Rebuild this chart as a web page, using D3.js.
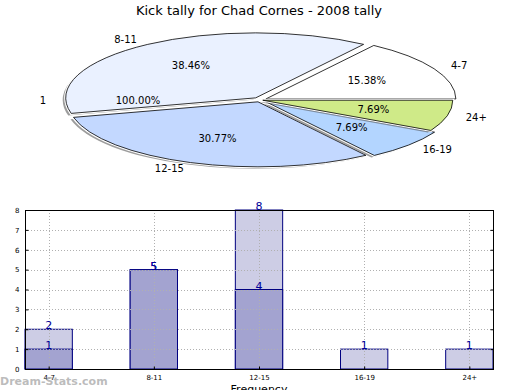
<!DOCTYPE html>
<html><head><meta charset="utf-8">
<script src="https://cdn.jsdelivr.net/npm/d3@7"></script>
<style>body{margin:0;background:#fff}svg{display:block}text{font-family:"DejaVu Sans",sans-serif}</style>
</head><body>
<svg id="c" width="520" height="390"></svg>
<script>
// ---- data ----
const title = "Kick tally for Chad Cornes - 2008 tally";
const pieLabels = ["4-7", "8-11", "12-15", "16-19", "24+"];
const pieValues = [2, 5, 4, 1, 1];
const pieColors = ["#ffffff", "#eaf1ff", "#c3d8ff", "#b3d5ff", "#cfea88"];
const pieExplode = [0.035, 0.04, 0.03, 0.045, 0.015];
const oddLabel = "1";          // degenerate slice drawn by the original
const oddPct = "100.00%";

const categories = ["4-7", "8-11", "12-15", "16-19", "24+"];
const seriesLight = [2, 5, 8, 1, 1];
const seriesDark = [1, 5, 4, 0, 0];
const yTicks = [0, 1, 2, 3, 4, 5, 6, 7, 8];
const xAxisLabel = "Frequency";
const watermark = "Dream-Stats.com";

const svg = d3.select("#c");

// ---- title ----
svg.append("text").attr("x", 259).attr("y", 15).attr("text-anchor", "middle")
  .attr("font-size", 13).text(title);

// ---- pie (elliptical) ----
const cx = 260, cy = 100, rx = 190, ry = 65;
const total = d3.sum(pieValues);
const pie = d3.pie().sort(null).value(d => d)
  .startAngle(Math.PI / 2).endAngle(Math.PI / 2 - 2 * Math.PI);
const arcs = pie(pieValues);
const unitArc = d3.arc().innerRadius(0).outerRadius(1);
const pt = (a, r) => [cx + r * rx * Math.sin(a), cy - r * ry * Math.cos(a)];

const pieG = svg.append("g");
arcs.forEach((d, i) => {
  const mid = (d.startAngle + d.endAngle) / 2;
  const ox = pieExplode[i] * rx * Math.sin(mid), oy = -pieExplode[i] * ry * Math.cos(mid);
  // shadow
  pieG.append("path").attr("d", unitArc(d))
    .attr("transform", `translate(${cx + ox - 3},${cy + oy + 2}) scale(${rx},${ry})`)
    .attr("fill", "#4d4d4d").attr("fill-opacity", 0.55);
  pieG.append("path").attr("d", unitArc(d))
    .attr("transform", `translate(${cx + ox},${cy + oy}) scale(${rx},${ry})`)
    .attr("fill", pieColors[i]).attr("stroke", "#fff").attr("stroke-width", 3)
    .attr("vector-effect", "non-scaling-stroke");
  pieG.append("path").attr("d", unitArc(d))
    .attr("transform", `translate(${cx + ox},${cy + oy}) scale(${rx},${ry})`)
    .attr("fill", pieColors[i]).attr("stroke", "#000").attr("stroke-width", 0.8)
    .attr("vector-effect", "non-scaling-stroke");
});
arcs.forEach((d, i) => {
  const mid = (d.startAngle + d.endAngle) / 2;
  const ox = pieExplode[i] * rx * Math.sin(mid), oy = -pieExplode[i] * ry * Math.cos(mid);
  const [lx, ly] = pt(mid, 1.1);
  svg.append("text").attr("x", lx + ox).attr("y", ly + oy).attr("dy", "0.35em")
    .attr("text-anchor", Math.sin(mid) >= 0 ? "start" : "end")
    .attr("font-size", 10).text(pieLabels[i]);
  const [px, py] = pt(mid, 0.6);
  svg.append("text").attr("x", px + ox).attr("y", py + oy).attr("dy", "0.35em")
    .attr("text-anchor", "middle").attr("font-size", 10)
    .text((100 * pieValues[i] / total).toFixed(2) + "%");
});
{
  const a = -Math.PI / 2;
  const [lx, ly] = pt(a, 1.1);
  svg.append("text").attr("x", lx - 5).attr("y", ly).attr("dy", "0.35em")
    .attr("text-anchor", "end").attr("font-size", 10).text(oddLabel);
  const [px, py] = pt(a, 0.6);
  svg.append("text").attr("x", px - 8).attr("y", py).attr("dy", "0.35em")
    .attr("text-anchor", "middle").attr("font-size", 10).text(oddPct);
}

// ---- bar chart ----
const L = 25, R = 493, T = 210, B = 369;
const x = d3.scaleLinear().domain([-0.225, categories.length - 1 + 0.225]).range([L, R]);
const y = d3.scaleLinear().domain([0, 8]).range([B, T]);
const bw = x(0.45) - x(0);
const g = svg.append("g");

g.selectAll("rect.l").data(seriesLight).join("rect")
  .attr("x", (d, i) => x(i) - bw / 2).attr("width", bw)
  .attr("y", d => y(d)).attr("height", d => B - y(d))
  .attr("fill", "#cdcde5").attr("stroke", "#000080").attr("stroke-width", 1);
g.selectAll("rect.d").data(seriesDark).join("rect")
  .attr("x", (d, i) => x(i) - bw / 2).attr("width", bw)
  .attr("y", d => y(d)).attr("height", d => B - y(d))
  .attr("fill", "#a3a3d0").attr("stroke", d => d > 0 ? "#000080" : "none").attr("stroke-width", 1);

// grid (on top)
const grid = svg.append("g").attr("stroke", "#b0b0b0").attr("stroke-dasharray", "1,2").attr("stroke-width", 1);
yTicks.slice(1, -1).forEach(t => grid.append("line").attr("x1", L).attr("x2", R)
  .attr("y1", Math.round(y(t)) + 0.5).attr("y2", Math.round(y(t)) + 0.5));
categories.forEach((c, i) => grid.append("line").attr("y1", T).attr("y2", B)
  .attr("x1", Math.round(x(i)) + 0.5).attr("x2", Math.round(x(i)) + 0.5));

// frame
svg.append("rect").attr("x", L + 0.5).attr("y", T + 0.5).attr("width", R - L).attr("height", B - T)
  .attr("fill", "none").attr("stroke", "#000").attr("stroke-width", 1);

// axes with inward ticks
const yAx = svg.append("g").attr("transform", `translate(${L + 0.5},0)`)
  .call(d3.axisLeft(y).tickValues(yTicks).tickSize(-3).tickPadding(6).tickFormat(d3.format("d")));
const yAxR = svg.append("g").attr("transform", `translate(${R + 0.5},0)`)
  .call(d3.axisRight(y).tickValues(yTicks).tickSize(-3).tickFormat(""));
const xAx = svg.append("g").attr("transform", `translate(0,${B + 0.5})`)
  .call(d3.axisBottom(x).tickValues(d3.range(categories.length)).tickSize(-3).tickPadding(6)
    .tickFormat(i => categories[i]));
[yAx, yAxR, xAx].forEach(a => {
  a.select(".domain").remove();
  a.selectAll("text").attr("font-size", 7).attr("font-family", "DejaVu Sans");
  a.selectAll("line").attr("stroke", "#000");
});

// bar value labels
const lab = svg.append("g").attr("fill", "#000099").attr("font-size", 11).attr("text-anchor", "middle");
seriesLight.forEach((v, i) => { if (v > 0) lab.append("text").attr("x", x(i)).attr("y", y(v)).text(v); });
seriesDark.forEach((v, i) => { if (v > 0) lab.append("text").attr("x", x(i)).attr("y", y(v)).text(v); });

svg.append("text").attr("x", 259).attr("y", 393).attr("text-anchor", "middle")
  .attr("font-size", 11).text(xAxisLabel);

svg.append("text").attr("x", 0).attr("y", 385).attr("font-size", 11).attr("font-weight", "bold")
  .attr("fill", "#b0b0b0").attr("fill-opacity", 0.85).text(watermark);
</script>
</body></html>
